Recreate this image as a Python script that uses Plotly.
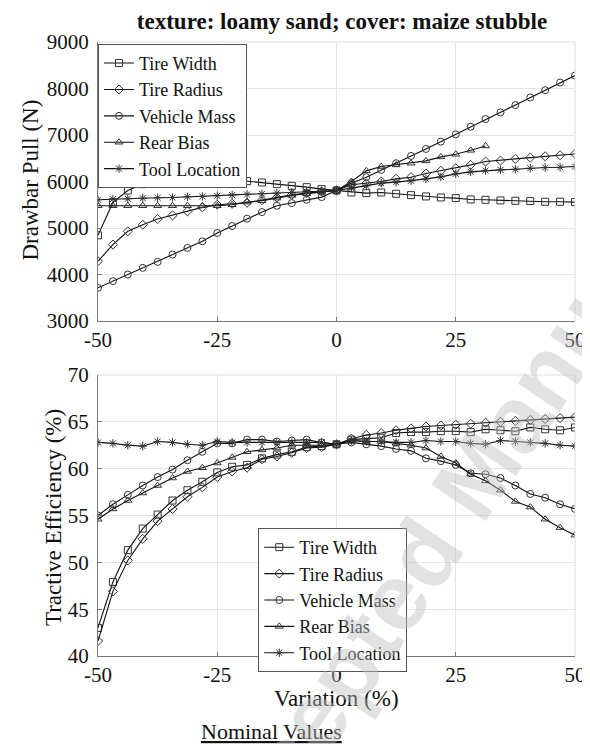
import plotly.graph_objects as go

variation = [-50, -46.875, -43.75, -40.625, -37.5, -34.375, -31.25, -28.125, -25,
             -21.875, -18.75, -15.625, -12.5, -9.375, -6.25, -3.125, 0,
             3.125, 6.25, 9.375, 12.5, 15.625, 18.75, 21.875, 25,
             28.125, 31.25, 34.375, 37.5, 40.625, 43.75, 46.875, 50]

series_names = ["Tire Width", "Tire Radius", "Vehicle Mass", "Rear Bias", "Tool Location"]

# Drawbar pull (N)
dp_tire_width = [4843, 5550, 5807, 5943, 6036, 6064, 6079, 6071, 6057, 6029, 6007, 5979, 5943, 5907, 5879, 5836, 5807,
                 5764, 5750, 5764, 5736, 5707, 5679, 5657, 5643, 5614, 5607, 5593, 5586, 5579, 5564, 5564, 5557]
dp_tire_radius = [4286, 4643, 4929, 5071, 5193, 5271, 5357, 5443, 5500, 5521, 5543, 5600, 5657, 5714, 5750, 5786, 5807,
                  5929, 5960, 6000, 6057, 6093, 6171, 6229, 6286, 6357, 6429, 6450, 6486, 6514, 6543, 6564, 6593]
dp_vehicle_mass = [3714, 3857, 4000, 4143, 4271, 4429, 4571, 4714, 4893, 5043, 5200, 5343, 5479, 5536, 5607, 5664, 5807,
                   5964, 6093, 6250, 6393, 6550, 6700, 6857, 7014, 7179, 7343, 7486, 7643, 7807, 7964, 8129, 8279]
dp_rear_bias = [5479, 5479, 5479, 5479, 5479, 5479, 5479, 5479, 5479, 5500, 5557, 5586, 5643, 5700, 5736, 5771, 5807,
                6000, 6229, 6321, 6357, 6393, 6443, 6529, 6586, 6671, 6764]
dp_tool_location = [5607, 5621, 5629, 5643, 5650, 5657, 5671, 5679, 5693, 5707, 5721, 5736, 5750, 5764, 5779, 5793, 5807,
                    5857, 5907, 5964, 5986, 6014, 6057, 6100, 6164, 6207, 6236, 6250, 6264, 6286, 6300, 6307, 6321]

# Tractive efficiency (%)
te_tire_width = [43.0, 47.9, 51.3, 53.6, 55.1, 56.6, 57.7, 58.6, 59.6, 60.2, 60.4, 61.1, 61.5, 61.8, 62.3, 62.4, 62.6,
                 63.1, 63.2, 63.3, 63.8, 63.9, 63.9, 64.0, 64.0, 63.9, 64.2, 64.1, 64.0, 64.4, 64.2, 64.1, 64.4]
te_tire_radius = [41.6, 46.9, 50.2, 52.5, 54.4, 55.7, 57.0, 58.0, 59.1, 59.7, 60.1, 61.0, 61.3, 61.7, 62.2, 62.3, 62.6,
                  63.2, 63.6, 63.8, 64.1, 64.3, 64.5, 64.6, 64.7, 64.8, 64.9, 65.0, 65.1, 65.2, 65.3, 65.4, 65.5]
te_vehicle_mass = [55.0, 56.2, 57.2, 58.2, 59.1, 59.9, 60.9, 61.8, 62.7, 62.7, 63.1, 63.1, 62.9, 63.0, 63.1, 62.8, 62.6,
                   62.8, 62.6, 62.4, 62.1, 61.9, 61.1, 60.8, 60.4, 59.5, 59.4, 59.0, 58.2, 57.3, 56.9, 56.2, 55.7]
te_rear_bias = [54.6, 55.7, 56.6, 57.4, 58.2, 59.0, 59.7, 60.1, 60.6, 61.2, 61.8, 62.0, 62.2, 62.5, 62.5, 62.5, 62.6,
                63.0, 62.9, 62.9, 62.7, 62.5, 62.2, 61.3, 60.6, 59.4, 58.7, 57.7, 56.5, 55.9, 54.6, 53.7, 52.9]
te_tool_location = [62.8, 62.7, 62.5, 62.4, 62.9, 62.8, 62.6, 62.5, 62.9, 62.8, 62.8, 62.8, 62.8, 62.8, 62.8, 62.8, 62.6,
                    63.0, 62.9, 62.9, 62.8, 62.8, 63.0, 62.9, 62.9, 62.7, 62.6, 63.0, 62.9, 62.8, 62.7, 62.5, 62.4]

x_ticks = [-50, -25, 0, 25, 50]
x_tick_labels = ["-50", "-25", "0", "25", "50"]
dp_ticks = [3000, 4000, 5000, 6000, 7000, 8000, 9000]
te_ticks = [40, 45, 50, 55, 60, 65, 70]

symbols = ["square-open", "diamond-open", "circle-open", "triangle-up-open", "asterisk-open"]
dp_data = [dp_tire_width, dp_tire_radius, dp_vehicle_mass, dp_rear_bias, dp_tool_location]
te_data = [te_tire_width, te_tire_radius, te_vehicle_mass, te_rear_bias, te_tool_location]

SERIF = "Liberation Serif"

fig = go.Figure()
for name, sym, vals in zip(series_names, symbols, dp_data):
    fig.add_trace(go.Scatter(
        x=variation[:len(vals)], y=vals, name=name, mode="lines+markers",
        line=dict(color="#111111", width=1.1),
        marker=dict(symbol=sym, size=7, color="#333333", line=dict(color="#333333", width=1)),
        xaxis="x", yaxis="y", legend="legend"))
for name, sym, vals in zip(series_names, symbols, te_data):
    fig.add_trace(go.Scatter(
        x=variation[:len(vals)], y=vals, name=name, mode="lines+markers",
        line=dict(color="#111111", width=1.1),
        marker=dict(symbol=sym, size=7, color="#333333", line=dict(color="#333333", width=1)),
        xaxis="x2", yaxis="y2", legend="legend2"))

axis_common = dict(
    showgrid=True, gridcolor="#e4e4e4", gridwidth=1,
    showline=True, linecolor="#777777", linewidth=1,
    ticks="inside", ticklen=4, tickcolor="#777777",
    zeroline=False, tickfont=dict(family=SERIF, size=21, color="#111111"),
)

top_dom = [0.5456, 1.0]
bot_dom = [0.0, 0.4577]

legend_common = dict(xanchor="left", yanchor="top",
                     bgcolor="white", bordercolor="#555555", borderwidth=1,
                     font=dict(family=SERIF, size=18, color="#111111"),
                     tracegroupgap=0, itemwidth=30)

fig.update_layout(
    width=590, height=744,
    margin=dict(l=90, r=12, t=34, b=96),
    paper_bgcolor="white", plot_bgcolor="white",
    font=dict(family=SERIF),
    showlegend=True,
    title=dict(text="<b>texture: loamy sand; cover: maize stubble</b>",
               x=334/590, xanchor="center", y=1-13/744, yanchor="middle",
               font=dict(family=SERIF, size=23, color="#111111")),
    xaxis=dict(domain=[0, 1], anchor="y", range=[-50, 50], tickvals=x_ticks, ticktext=x_tick_labels, **axis_common),
    yaxis=dict(domain=top_dom, anchor="x", range=[3000, 9000], tickvals=dp_ticks,
               ticklabelstandoff=4, **axis_common),
    xaxis2=dict(domain=[0, 1], anchor="y2", range=[-50, 50], tickvals=x_ticks, ticktext=x_tick_labels, **axis_common),
    yaxis2=dict(domain=bot_dom, anchor="x2", range=[40, 70], tickvals=te_ticks,
                ticklabelstandoff=4, **axis_common),
    legend=dict(x=0.0, y=0.997, **legend_common),
    legend2=dict(x=0.336, y=0.2085, **legend_common),
)

# light top/right frame lines
for xr, yr in (("x", "y"), ("x2", "y2")):
    fig.add_shape(type="line", xref=f"{xr} domain", yref=f"{yr} domain", x0=0, x1=1, y0=1, y1=1,
                  line=dict(color="#dddddd", width=1))
    fig.add_shape(type="line", xref=f"{xr} domain", yref=f"{yr} domain", x0=1, x1=1, y0=0, y1=1,
                  line=dict(color="#dddddd", width=1))

fig.add_annotation(text="Drawbar Pull (N)", xref="paper", yref="paper",
                   x=(20-90)/488, y=(648-172)/614, textangle=-90, showarrow=False,
                   xanchor="center", yanchor="middle",
                   font=dict(family=SERIF, size=23, color="#111111"))
fig.add_annotation(text="Tractive Efficiency (%)", xref="paper", yref="paper",
                   x=(44-90)/488, y=(648-510)/614, textangle=-90, showarrow=False,
                   xanchor="center", yanchor="middle",
                   font=dict(family=SERIF, size=23, color="#111111"))
fig.add_annotation(text="Variation (%)", xref="paper", yref="paper",
                   x=0.5, y=(648-690)/614, showarrow=False,
                   xanchor="center", yanchor="middle",
                   font=dict(family=SERIF, size=23, color="#111111"))
fig.add_annotation(text="<u>Nominal Values</u>", xref="paper", yref="paper",
                   x=(268-90)/488, y=(648-723)/614, showarrow=False,
                   xanchor="center", yanchor="middle",
                   font=dict(family=SERIF, size=22, color="#111111"))
# watermark
fig.add_annotation(text="<b>Accepted Manuscript</b>", xref="paper", yref="paper",
                   x=(470-90)/488, y=(648-478)/614, showarrow=False, textangle=-56,
                   xanchor="center", yanchor="middle",
                   font=dict(family="Liberation Sans", size=95,
                             color="rgba(190,190,190,0.45)"))

fig.write_html("out.html")
